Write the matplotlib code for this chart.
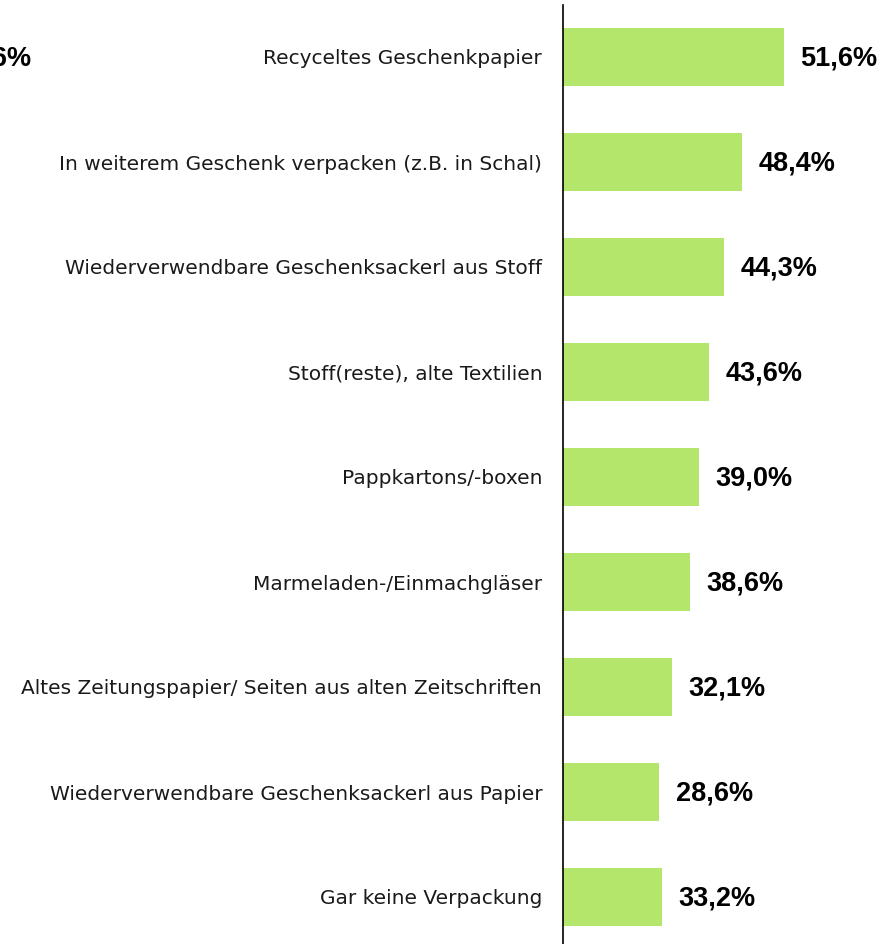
import matplotlib
matplotlib.use("Agg")
import matplotlib.pyplot as plt
from matplotlib import font_manager as fm

categories = [
    "Recyceltes Geschenkpapier",
    "In weiterem Geschenk verpacken (z.B. in Schal)",
    "Wiederverwendbare Geschenksackerl aus Stoff",
    "Stoff(reste), alte Textilien",
    "Pappkartons/-boxen",
    "Marmeladen-/Einmachgläser",
    "Altes Zeitungspapier/ Seiten aus alten Zeitschriften",
    "Wiederverwendbare Geschenksackerl aus Papier",
    "Gar keine Verpackung",
]
# printed labels
value_labels = ["51,6%", "48,4%", "44,3%", "43,6%", "39,0%", "38,6%", "32,1%", "28,6%", "33,2%"]
# bar lengths as drawn in the picture (same scale as the first bar)
bar_len = [51.6, 41.9, 37.6, 34.1, 31.9, 29.6, 25.4, 22.5, 23.2]

# pick regular-width Liberation Sans Bold explicitly (not the Narrow cut)
bold_file = None
for f in fm.fontManager.ttflist:
    if f.name == 'Liberation Sans' and f.weight in (700, 'bold') \
            and 'Narrow' not in f.fname and f.style == 'normal':
        bold_file = f.fname
        break
if bold_file:
    bold_fp = fm.FontProperties(fname=bold_file, size=19.5)
else:
    bold_fp = fm.FontProperties(family='DejaVu Sans', weight='bold', size=18)

W, H = 896, 944
fig = plt.figure(figsize=(W / 100, H / 100), dpi=100)
px_per_unit = 220.7 / 51.6
ax = fig.add_axes([563 / W, 0, 300 / W, 939 / H])

ypos = list(range(len(categories)))
ax.barh(ypos, bar_len, height=58 / 105, color='#b3e66b', edgecolor='none')
ax.set_xlim(0, 300 / px_per_unit)
ax.set_ylim(8 + 47 / 105, -52 / 105)

for y, v, lab in zip(ypos, bar_len, value_labels):
    ax.annotate(lab, (v, y), xytext=(11.8, -1.0), textcoords='offset points',
                ha='left', va='center', fontproperties=bold_fp, color='black')

ax.set_yticks(ypos)
ax.set_yticklabels(categories, fontsize=14.5, color='#1a1a1a',
                   family=['DejaVu Sans'])
ax.tick_params(axis='y', length=0, pad=15)
ax.set_xticks([])
for s in ['top', 'right', 'bottom']:
    ax.spines[s].set_visible(False)
ax.spines['left'].set_linewidth(1.2)

# stray label cut off at the left edge
fig.text(31 / W, 1 - 58 / H, "51,6%", ha='right', va='center',
         fontproperties=bold_fp)

fig.savefig("out.png", dpi=100)
